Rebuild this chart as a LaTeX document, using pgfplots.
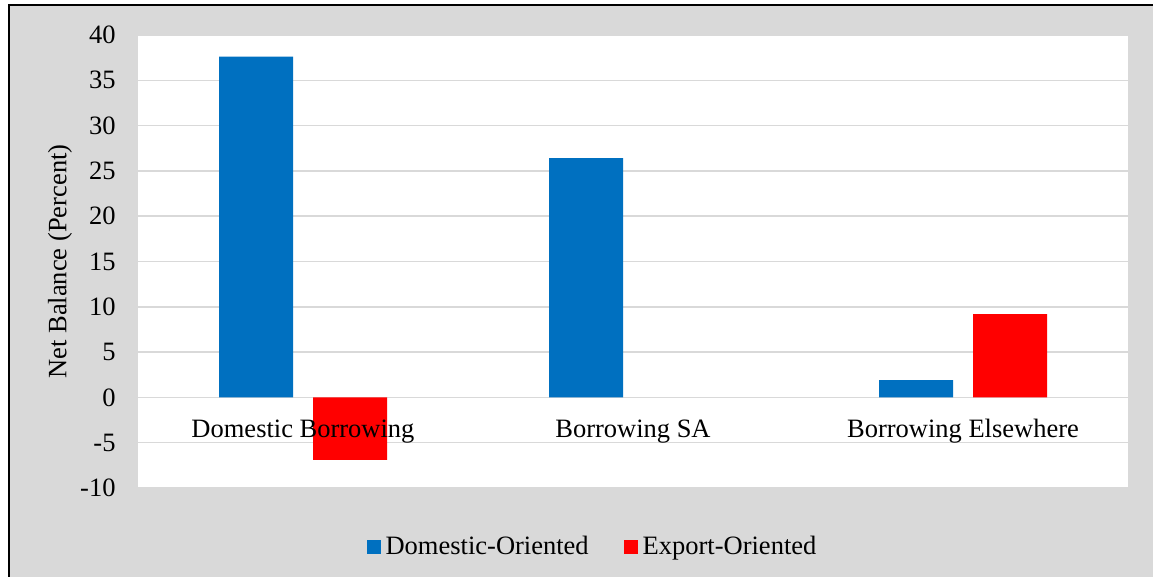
\documentclass[border=0pt]{standalone}
\usepackage{pgfplots}
\pgfplotsset{compat=1.18}
\usepackage{fontspec}
\setmainfont{Liberation Serif}
\definecolor{bgray}{HTML}{D9D9D9}
\definecolor{dblue}{HTML}{0070C0}
\definecolor{ered}{HTML}{FF0000}
\begin{document}
\fontsize{13.25pt}{16pt}\selectfont
\begin{tikzpicture}
\useasboundingbox (0,0) rectangle (576.5pt,288.5pt);
\fill[bgray] (5pt,0) rectangle (576.5pt,286pt);
\draw[black, line width=1.3pt] (4.5pt,0) -- (4.5pt,286pt) -- (576.5pt,286pt);
\begin{axis}[
  at={(69pt,44.5pt)}, anchor=south west,
  width=495pt, height=226.5pt, scale only axis,
  xmin=-0.5, xmax=2.5, ymin=-10, ymax=40,
  ytick={-10,-5,...,40}, xtick=\empty,
  /pgf/number format/assume math mode=true,
  yticklabel={\pgfmathprintnumber{\tick}},
  axis line style={draw=none}, tick style={draw=none},
  ymajorgrids, grid style={bgray, line width=0.75pt},
  axis background/.style={fill=white},
  yticklabel style={xshift=-6.6pt},
  ylabel={Net Balance (Percent)},
  every axis y label/.style={at={(axis description cs:0,0.5)}, xshift=-39pt, rotate=90, anchor=center},
  ybar=10pt, bar width=37pt,
  legend style={at={(0.4606,-0.1302)}, anchor=center, draw=none, fill=none,
    legend columns=2, /tikz/every even column/.append style={column sep=15pt},
    nodes={inner sep=2.5pt}},
]
\addplot[fill=dblue, draw=none, legend image code/.code={\fill[dblue] (0pt,-3.5pt) rectangle (7pt,3.5pt);}]
  coordinates {(0,37.6) (1,26.4) (2,1.9)};
\addplot[fill=ered, draw=none, legend image code/.code={\fill[ered] (0pt,-3.5pt) rectangle (7pt,3.5pt);}]
  coordinates {(0,-6.9) (2,9.2)};
\legend{Domestic-Oriented, Export-Oriented}
\node[anchor=base, yshift=-20.3pt] at (axis cs:0,0) {Domestic Borrowing};
\node[anchor=base, yshift=-20.3pt] at (axis cs:1,0) {Borrowing SA};
\node[anchor=base, yshift=-20.3pt] at (axis cs:2,0) {Borrowing Elsewhere};
\end{axis}
\end{tikzpicture}
\end{document}
